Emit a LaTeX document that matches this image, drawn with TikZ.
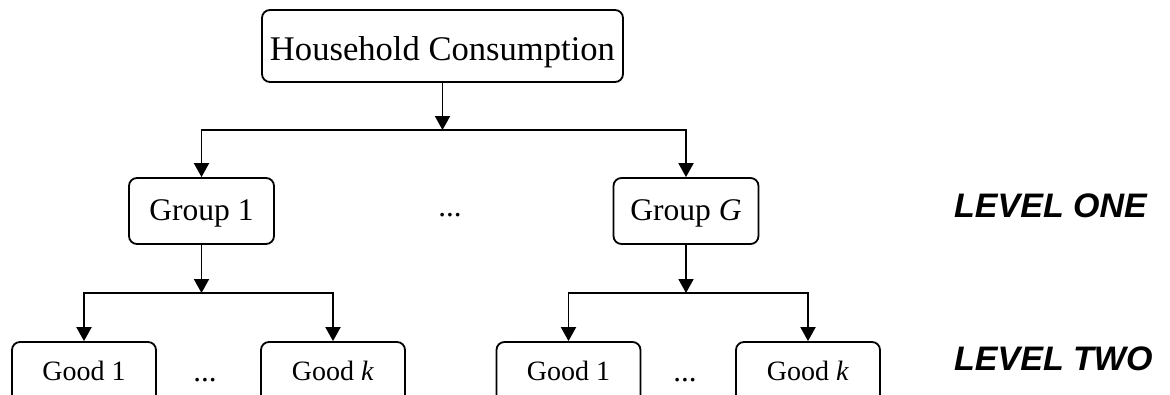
\documentclass[tikz,border=0pt]{standalone}
\usepackage{fontspec}
\setmainfont{Liberation Serif}
\newfontfamily\lvlfont{Liberation Sans}
\usetikzlibrary{arrows.meta}
\tikzset{
  box/.style={draw, rounded corners=8pt, line width=1.8pt, inner sep=0pt, align=center},
  topbox/.style={box, minimum width=361pt, minimum height=72pt, text height=28pt, text depth=0pt,
    font=\fontsize{34.6}{40}\selectfont},
  groupbox/.style={box, minimum width=145pt, minimum height=66pt, text height=19.4pt, text depth=0pt,
    font=\fontsize{31.5}{36}\selectfont},
  goodbox/.style={box, minimum width=144pt, minimum height=66pt, text height=10pt, text depth=0pt,
    font=\fontsize{28}{32}\selectfont},
  conn/.style={line width=1.9pt, -{Triangle[length=14pt,width=15pt]}},
  dotstext/.style={anchor=base, inner sep=0pt, font=\fontsize{31}{36}\selectfont},
  leveltext/.style={anchor=base west, inner sep=0pt, font=\lvlfont\bfseries\itshape\fontsize{34}{40}\selectfont}
}
\begin{document}
\begin{tikzpicture}[x=1pt, y=-1pt]
\clip (0,0) rectangle (1170,394);
\fill[white] (0,0) rectangle (1170,394);
% nodes
\node[topbox] (hc) at (442.5,46) {Household Consumption};
\node[groupbox] (g1) at (201.5,211) {Group 1};
\node[groupbox] (gG) at (686,211) {Group \textit{G}};
\node[goodbox] (l1) at (84,375) {Good 1};
\node[goodbox] (lk) at (333,375) {Good \textit{k}};
\node[goodbox] (r1) at (568.5,375) {Good 1};
\node[goodbox] (rk) at (808,375) {Good \textit{k}};
\node[dotstext] (d1) at (450,216.5) {...};
\node[dotstext] (d2) at (205,381.5) {...};
\node[dotstext] (d3) at (685,381.5) {...};
\node[leveltext] (lv1) at (954,217) {LEVEL ONE};
\node[leveltext] (lv2) at (954,370) {LEVEL TWO};
% split points
\coordinate (s1) at (442.5,130);
\coordinate (s2) at (201.5,293);
\coordinate (s3) at (686,293);
% connectors
\draw[conn] (hc.south) -- (s1);
\draw[conn] (s1) -| (g1.north);
\draw[conn] (s1) -| (gG.north);
\draw[conn] (g1.south) -- (s2);
\draw[conn] (s2) -| (l1.north);
\draw[conn] (s2) -| (lk.north);
\draw[conn] (gG.south) -- (s3);
\draw[conn] (s3) -| (r1.north);
\draw[conn] (s3) -| (rk.north);
\end{tikzpicture}
\end{document}
